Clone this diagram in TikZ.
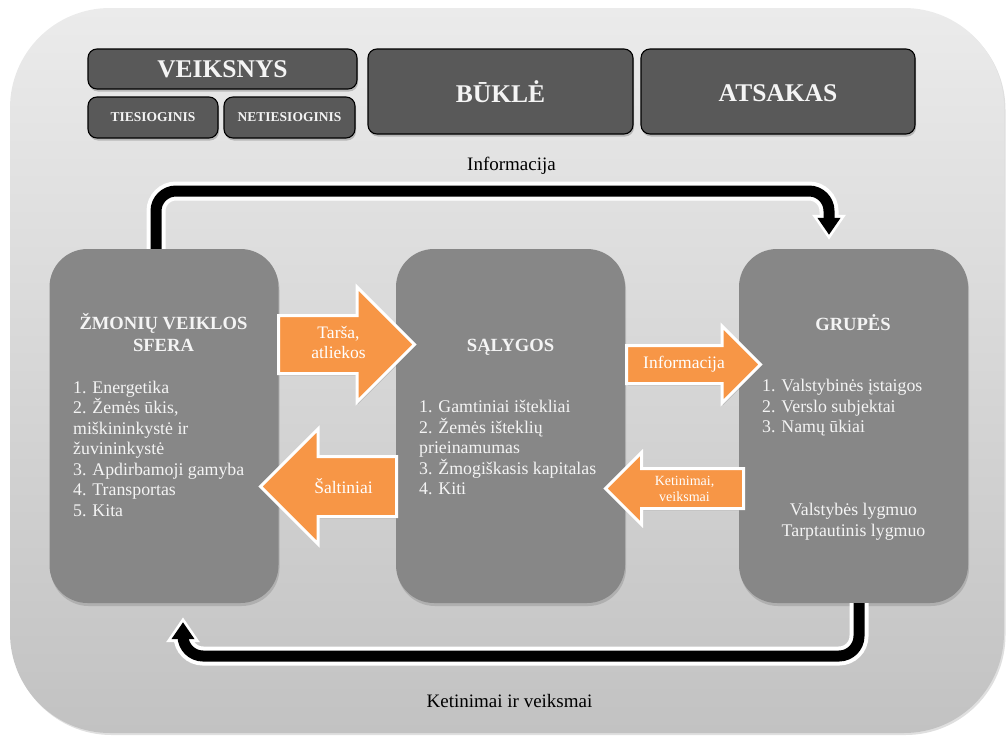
\documentclass[tikz,border=0pt]{standalone}
\usepackage{fontspec}
\setmainfont{Liberation Serif}
\usetikzlibrary{shapes.arrows,shadows,arrows.meta,calc}
\definecolor{bgtop}{HTML}{EBEBEB}
\definecolor{bgbot}{HTML}{C2C2C2}
\definecolor{darkbox}{HTML}{595959}
\definecolor{midbox}{HTML}{878787}
\definecolor{orng}{HTML}{F79646}
\definecolor{txtw}{HTML}{F4F4F4}
\newcommand\arrtext[3]{\parbox[c][#2][c]{#1}{\centering #3}}
\tikzset{
  bgbox/.style={rounded corners=100pt, top color=bgtop, bottom color=bgbot, inner sep=0pt,
    minimum width=994pt, minimum height=725pt,
    drop shadow={shadow xshift=1.5pt, shadow yshift=-2pt, opacity=0.25}},
  topbox/.style={draw=black, line width=1.1pt, fill=darkbox, rounded corners=9pt, inner sep=0pt,
    text=txtw, font=\bfseries,
    drop shadow={shadow xshift=1pt, shadow yshift=-2.5pt, opacity=0.45}},
  bigbox/.style={fill=midbox, rounded corners=38pt, inner sep=0pt,
    minimum width=229pt, minimum height=354pt,
    drop shadow={shadow xshift=1pt, shadow yshift=-3pt, opacity=0.35}},
  boxtxt/.style={text=txtw, inner sep=0pt, font=\fontsize{17.8}{20.5}\selectfont},
  boxhead/.style={text=txtw, inner sep=0pt, font=\fontsize{18.6}{22}\selectfont\bfseries},
  lbl/.style={text=black, inner sep=0pt, font=\fontsize{19}{22}\selectfont},
  oarrow/.style={shape=single arrow, fill=orng, draw=white, line width=3pt, inner sep=0pt,
    text=white, drop shadow={shadow xshift=1pt, shadow yshift=-2pt, opacity=0.35}},
  flowwhite/.style={line width=19pt, white, rounded corners=20pt, -{Triangle[width=32pt,length=25pt]}},
  flowblack/.style={line width=11pt, black, rounded corners=20pt, -{Triangle[width=22pt,length=17pt]}},
}
\begin{document}
\begin{tikzpicture}[x=1pt,y=-1pt]
\useasboundingbox (0,0) rectangle (1006,736);
\node[bgbox] (bg) at (507,370.5) {};

% top header boxes
\node[topbox, minimum width=269pt, minimum height=40pt, font=\fontsize{25.5}{28}\selectfont\bfseries] (veik) at (222.5,69) {VEIKSNYS};
\node[topbox, minimum width=130pt, minimum height=41pt, font=\fontsize{13.5}{16}\selectfont\bfseries] (ties) at (153,117.5) {TIESIOGINIS};
\node[topbox, minimum width=131pt, minimum height=41pt, font=\fontsize{13.5}{16}\selectfont\bfseries] (neties) at (289.5,117.5) {NETIESIOGINIS};
\node[topbox, minimum width=265pt, minimum height=85pt, font=\fontsize{25.5}{28}\selectfont\bfseries] (bukle) at (500.5,91.5) {BŪKLĖ};
\node[topbox, minimum width=274pt, minimum height=85pt, font=\fontsize{25.5}{28}\selectfont\bfseries] (atsak) at (778,91.5) {\vphantom{Ū}ATSAKAS};

% big boxes
\node[bigbox] (zm) at (164,426) {};
\node[bigbox] (sal) at (510.5,426) {};
\node[bigbox] (grp) at (853.5,426) {};

% texts in big boxes (base = baseline of the last line)
\node[boxhead, anchor=base, align=center] (zmt) at (163.5,351) {ŽMONIŲ VEIKLOS\\SFERA};
\node[boxtxt, anchor=base west, align=left] (zml) at (73,516.3) {1. Energetika\\2. Žemės ūkis,\\miškininkystė ir\\žuvininkystė\\3. Apdirbamoji gamyba\\4. Transportas\\5. Kita};
\node[boxhead, anchor=base] (salt) at (510.5,351) {SĄLYGOS};
\node[boxtxt, anchor=base west, align=left] (sall) at (419,494.5) {1. Gamtiniai ištekliai\\2. Žemės išteklių\\prieinamumas\\3. Žmogiškasis kapitalas\\4. Kiti};
\node[boxhead, anchor=base] (grpt) at (853,330) {GRUPĖS};
\node[boxtxt, anchor=base west, align=left] (grpl) at (762,432.7) {1. Valstybinės įstaigos\\2. Verslo subjektai\\3. Namų ūkiai};
\node[boxtxt, anchor=base, align=center] (grpv) at (853.5,536) {Valstybės lygmuo\\Tarptautinis lygmuo};

% outer labels
\node[lbl, anchor=base] (infolbl) at (511.5,170) {Informacija};
\node[lbl, anchor=base] (ketlbl) at (509.5,707) {Ketinimai ir veiksmai};

% connectors
\coordinate (topline) at (0,191);
\coordinate (botline) at (0,656);
\coordinate (t0) at ([xshift=-8pt]zm.north);
\coordinate (t3w) at ([xshift=-24.5pt,yshift=9pt]grp.north);
\coordinate (t3b) at ([xshift=-24.5pt,yshift=14pt]grp.north);
\coordinate (b0) at ([xshift=5.5pt]grp.south);
\coordinate (b3w) at ([xshift=19pt,yshift=-14pt]zm.south);
\coordinate (b3b) at ([xshift=19pt,yshift=-19pt]zm.south);
\draw[flowwhite] (t0) -- (t0 |- topline) -- (t3w |- topline) -- (t3w);
\draw[flowblack] (t0) -- (t0 |- topline) -- (t3b |- topline) -- (t3b);
\draw[flowwhite] (b0) -- (b0 |- botline) -- (b3w |- botline) -- (b3w);
\draw[flowblack] (b0) -- (b0 |- botline) -- (b3b |- botline) -- (b3b);

% orange block arrows
\node[oarrow, single arrow head extend=28.5pt, minimum height=136pt, anchor=tail] (tarsa) at (277,344.5)
  {\arrtext{62pt}{55pt}{\makebox[62pt]{\hspace*{13pt}\raisebox{-3pt}{\fontsize{17.5}{20}\selectfont\begin{tabular}{@{}c@{}}Tarša,\\atliekos\end{tabular}}}}};
\node[oarrow, shape border rotate=180, single arrow head extend=27.5pt, minimum height=136pt, anchor=tail] (salt2) at (398,486.5)
  {\arrtext{70pt}{57pt}{\fontsize{17.5}{20}\selectfont Šaltiniai}};
\node[oarrow, single arrow head extend=19.5pt, minimum height=134pt, anchor=tail] (info2) at (625,364.5)
  {\arrtext{84pt}{35pt}{\fontsize{17.5}{20}\selectfont Informacija}};
\node[oarrow, shape border rotate=180, single arrow head extend=16pt, minimum height=138pt, anchor=tail] (ket2) at (745,488.5)
  {\arrtext{66pt}{37pt}{\fontsize{14}{16}\selectfont Ketinimai,\\veiksmai}};
\end{tikzpicture}
\end{document}
